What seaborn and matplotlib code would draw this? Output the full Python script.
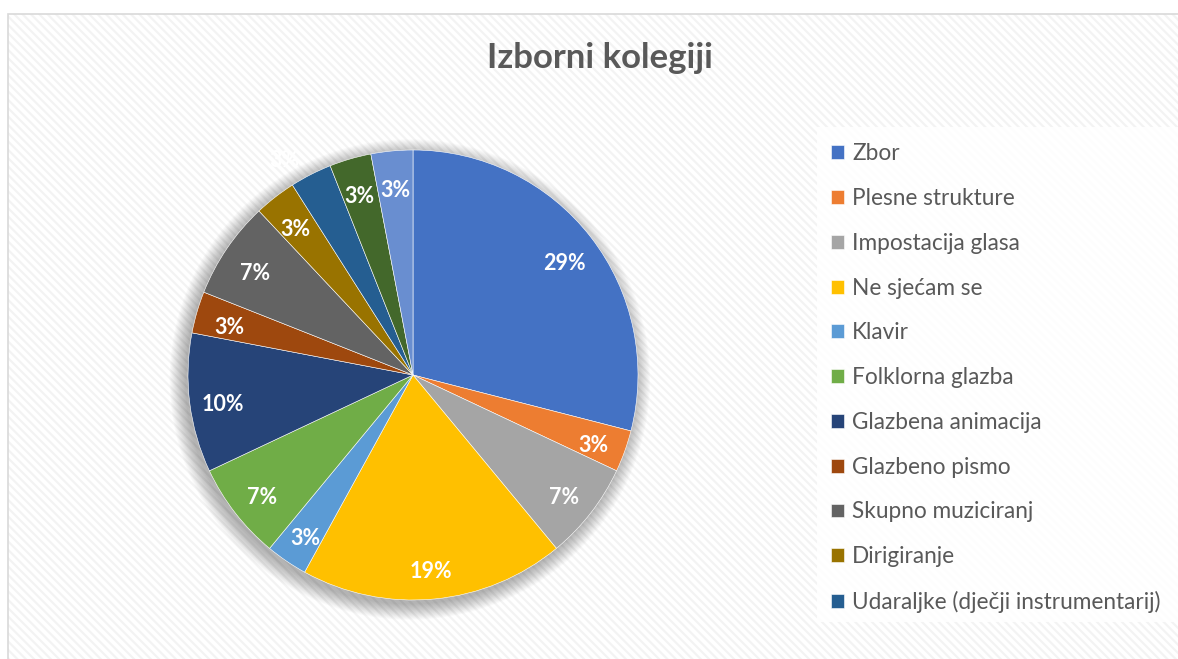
import matplotlib.pyplot as plt
import seaborn as sns
from matplotlib.patches import Rectangle, Circle

# Data (percent shares, clockwise from 12 o'clock)
legend_names = ['Zbor', 'Plesne strukture', 'Impostacija glasa', 'Ne sjećam se', 'Klavir',
                'Folklorna glazba', 'Glazbena animacija', 'Glazbeno pismo', 'Skupno muziciranj',
                'Dirigiranje', 'Udaraljke (dječji instrumentarij)']
shares = [29, 3, 7, 19, 3, 7, 10, 3, 7, 3, 3, 3, 3]
colors = ['#4472C4', '#ED7D31', '#A5A5A5', '#FFC000', '#5B9BD5', '#70AD47', '#264478',
          '#9E480E', '#636363', '#997300', '#255E91', '#43682B', '#698ED0']
title = 'Izborni kolegiji'

sns.set_theme(style='white')
plt.rcParams['font.family'] = ['Lato', 'DejaVu Sans']
plt.rcParams['hatch.linewidth'] = 1.6

W, H = 1178, 659
fig = plt.figure(figsize=(W / 100, H / 100), dpi=100)
fig.patch.set_facecolor('white')

# chart area: faint diagonal stripes + light border
fig.patches.append(Rectangle((8 / W, 0), 1, 1 - 14 / H, transform=fig.transFigure,
                             facecolor='white', edgecolor='#F3F3F3', hatch='\\\\\\\\', lw=0, zorder=-3))
fig.patches.append(Rectangle((8 / W, -0.01), 1, 1 - 14 / H + 0.01, transform=fig.transFigure,
                             fill=False, edgecolor='#D9D9D9', lw=1.2, zorder=-2))
# legend background
fig.patches.append(Rectangle((817 / W, 1 - 622 / H), 1, (622 - 127) / H, transform=fig.transFigure,
                             facecolor='white', alpha=0.85, lw=0, zorder=-1))

fig.text(600 / W, 1 - 58 / H, title, ha='center', va='center', fontsize=25,
         fontweight='bold', color='#595959')

cx, cy, r = 413, 375, 225
half = 260
ax = fig.add_axes([(cx - half) / W, (H - cy - half) / H, 2 * half / W, 2 * half / H])
ax.set_zorder(2)
ax.patch.set_alpha(0)

# soft shadow
for i in range(16):
    ax.add_patch(Circle((-0.014, -0.02), 1.0 + 0.0045 * i, facecolor='black',
                        alpha=0.02, lw=0, zorder=0))

wedges, texts, autotexts = ax.pie(
    shares, colors=colors, startangle=90, counterclock=False, radius=1,
    autopct=lambda p: f'{p:.0f}%', pctdistance=0.85,
    wedgeprops=dict(linewidth=0.4, edgecolor='white'),
    textprops=dict(color='white', fontsize=15.5, fontweight='bold'))
for t in autotexts:
    t.set_zorder(5)
    x, y = t.get_position()
    t.set_position((x, y - 0.025))
# label of the Udaraljke slice sits outside the pie (Excel best-fit)
autotexts[10].set_position((-0.57, 0.955))

ax.set_xlim(-half / r, half / r)
ax.set_ylim(-half / r, half / r)
ax.set_aspect('equal')
ax.axis('off')

ax.legend(wedges[:11], legend_names, loc='upper left',
          bbox_to_anchor=(820 / W, 1 - 132 / H), bbox_transform=fig.transFigure,
          frameon=False, fontsize=16.3, labelcolor='#595959', handlelength=0.57,
          handleheight=0.57, handletextpad=0.35, labelspacing=1.05, borderpad=0)

fig.savefig('out.png', dpi=100, facecolor='white')
